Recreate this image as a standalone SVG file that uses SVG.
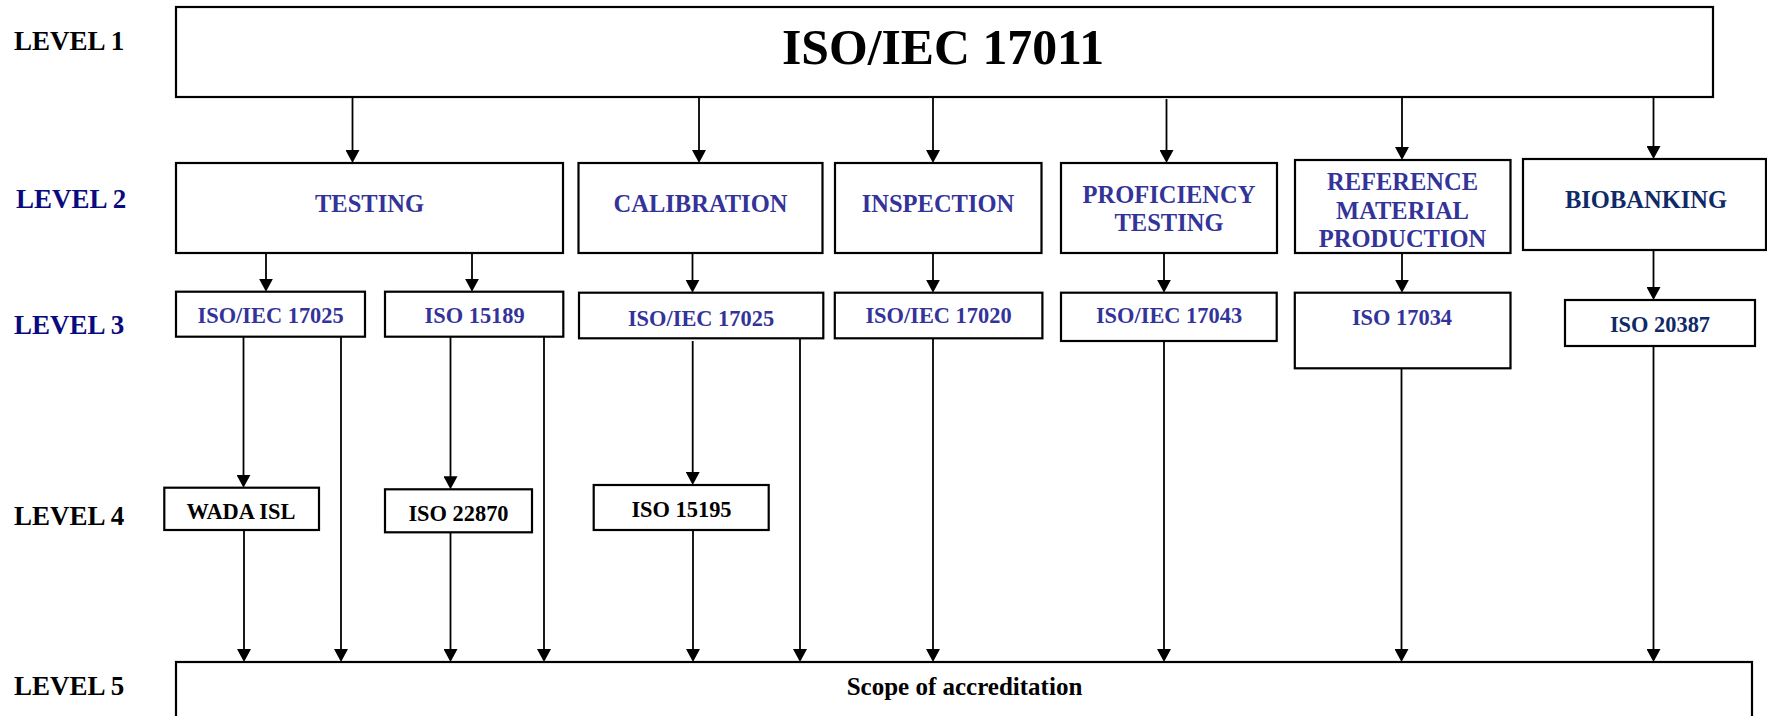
<svg xmlns="http://www.w3.org/2000/svg" width="1767" height="716" viewBox="0 0 1767 716">
<style>
  text { font-family: "Liberation Serif", "Times New Roman", serif; font-weight: bold; }
  .lvl { font-size: 27px; fill: #000000; }
  .lvlb { font-size: 27px; fill: #0a0a80; }
  .box { fill: #ffffff; stroke: #000000; stroke-width: 2.2; }
  .t2 { font-size: 24.5px; fill: #333399; text-anchor: middle; }
  .t2d { font-size: 24.5px; fill: #0f2a66; text-anchor: middle; }
  .t3 { font-size: 22.4px; fill: #333399; text-anchor: middle; }
  .t3d { font-size: 22.4px; fill: #0f2a66; text-anchor: middle; }
  .t4 { font-size: 22.4px; fill: #000000; text-anchor: middle; }
  .c { stroke: #000000; stroke-width: 1.8; fill: none; marker-end: url(#ah); }
</style>
<defs>
  <marker id="ah" markerUnits="userSpaceOnUse" markerWidth="13" markerHeight="14" viewBox="0 0 13 14" refX="3" refY="7" orient="auto">
    <path d="M0,0 L13,7 L0,14 Z" fill="#000000"/>
  </marker>
</defs>
<rect width="1767" height="716" fill="#ffffff"/>

<g id="level-labels">
  <text class="lvl" x="14" y="50">LEVEL 1</text>
  <text class="lvlb" x="16" y="208">LEVEL 2</text>
  <text class="lvlb" x="14" y="334">LEVEL 3</text>
  <text class="lvl" x="14" y="525">LEVEL 4</text>
  <text class="lvl" x="14" y="695">LEVEL 5</text>
</g>

<g id="connectors">
  <line class="c" x1="352.5" y1="97" x2="352.5" y2="153"/>
  <line class="c" x1="699" y1="97" x2="699" y2="153"/>
  <line class="c" x1="933" y1="97" x2="933" y2="153"/>
  <line class="c" x1="1166.5" y1="99" x2="1166.5" y2="153"/>
  <line class="c" x1="1402" y1="97" x2="1402" y2="150"/>
  <line class="c" x1="1653.5" y1="97" x2="1653.5" y2="149"/>

  <line class="c" x1="266" y1="253" x2="266" y2="281.7"/>
  <line class="c" x1="472" y1="253" x2="472" y2="281.7"/>
  <line class="c" x1="692.5" y1="253" x2="692.5" y2="282.7"/>
  <line class="c" x1="933" y1="253" x2="933" y2="282.7"/>
  <line class="c" x1="1164" y1="253" x2="1164" y2="282.7"/>
  <line class="c" x1="1402" y1="253" x2="1402" y2="282.7"/>
  <line class="c" x1="1653.5" y1="250" x2="1653.5" y2="290"/>

  <line class="c" x1="243.5" y1="337" x2="243.5" y2="477.7"/>
  <line class="c" x1="450.5" y1="337" x2="450.5" y2="479.3"/>
  <line class="c" x1="692.7" y1="341" x2="692.7" y2="475"/>

  <line class="c" x1="244" y1="530" x2="244" y2="652"/>
  <line class="c" x1="341" y1="336.7" x2="341" y2="652"/>
  <line class="c" x1="450.5" y1="532.3" x2="450.5" y2="652"/>
  <line class="c" x1="544" y1="336.7" x2="544" y2="652"/>
  <line class="c" x1="693" y1="530" x2="693" y2="652"/>
  <line class="c" x1="800" y1="338" x2="800" y2="652"/>
  <line class="c" x1="933" y1="338" x2="933" y2="652"/>
  <line class="c" x1="1164" y1="341" x2="1164" y2="652"/>
  <line class="c" x1="1401.5" y1="368" x2="1401.5" y2="652"/>
  <line class="c" x1="1653.5" y1="346" x2="1653.5" y2="652"/>
</g>

<g id="iso17011">
  <rect class="box" x="176" y="7" width="1537" height="90"/>
  <text x="943" y="64" font-size="51" text-anchor="middle" fill="#000000" textLength="322" lengthAdjust="spacingAndGlyphs">ISO/IEC 17011</text>
</g>

<g id="testing">
  <rect class="box" x="176" y="163" width="387" height="90"/>
  <text class="t2" x="369.5" y="212">TESTING</text>
</g>
<g id="calibration">
  <rect class="box" x="578.5" y="163" width="244" height="90"/>
  <text class="t2" x="700.5" y="212">CALIBRATION</text>
</g>
<g id="inspection">
  <rect class="box" x="835" y="163" width="206.5" height="90"/>
  <text class="t2" x="938" y="212">INSPECTION</text>
</g>
<g id="proficiency-testing">
  <rect class="box" x="1061" y="163" width="216" height="90"/>
  <text class="t2" x="1169" y="203">PROFICIENCY</text>
  <text class="t2" x="1169" y="231">TESTING</text>
</g>
<g id="reference-material-production">
  <rect class="box" x="1295" y="160" width="215.5" height="93"/>
  <text class="t2" x="1402.5" y="189.5">REFERENCE</text>
  <text class="t2" x="1402.5" y="218.5">MATERIAL</text>
  <text class="t2" x="1402.5" y="247">PRODUCTION</text>
</g>
<g id="biobanking">
  <rect class="box" x="1523" y="159" width="243" height="91"/>
  <text class="t2d" x="1646" y="208">BIOBANKING</text>
</g>

<g id="iso17025-testing">
  <rect class="box" x="176" y="291.7" width="189" height="45"/>
  <text class="t3" x="270.6" y="322.7">ISO/IEC 17025</text>
</g>
<g id="iso15189">
  <rect class="box" x="385" y="291.7" width="178.3" height="45"/>
  <text class="t3" x="474.6" y="322.7">ISO 15189</text>
</g>
<g id="iso17025-calibration">
  <rect class="box" x="579" y="292.7" width="244.3" height="45.6"/>
  <text class="t3" x="701" y="326" font-size="25px">ISO/IEC 17025</text>
</g>
<g id="iso17020">
  <rect class="box" x="834.8" y="292.7" width="207.6" height="45.6"/>
  <text class="t3" x="938.5" y="323.3">ISO/IEC 17020</text>
</g>
<g id="iso17043">
  <rect class="box" x="1061" y="292.7" width="215.7" height="48.3"/>
  <text class="t3" x="1169" y="323.3">ISO/IEC 17043</text>
</g>
<g id="iso17034">
  <rect class="box" x="1294.8" y="292.7" width="215.7" height="75.6"/>
  <text class="t3" x="1402" y="325">ISO 17034</text>
</g>
<g id="iso20387">
  <rect class="box" x="1565" y="300" width="190" height="46"/>
  <text class="t3d" x="1660" y="331.7">ISO 20387</text>
</g>

<g id="wada-isl">
  <rect class="box" x="164.3" y="487.7" width="154.7" height="42.3"/>
  <text class="t4" x="241" y="519">WADA ISL</text>
</g>
<g id="iso22870">
  <rect class="box" x="385" y="489.3" width="147" height="43"/>
  <text class="t4" x="458.5" y="520.5">ISO 22870</text>
</g>
<g id="iso15195">
  <rect class="box" x="593.7" y="485" width="175" height="45"/>
  <text class="t4" x="681.5" y="516.7">ISO 15195</text>
</g>

<g id="scope">
  <rect class="box" x="176" y="662" width="1576" height="70"/>
  <text x="964.5" y="695" font-size="25" text-anchor="middle" fill="#000000">Scope of accreditation</text>
</g>
</svg>
